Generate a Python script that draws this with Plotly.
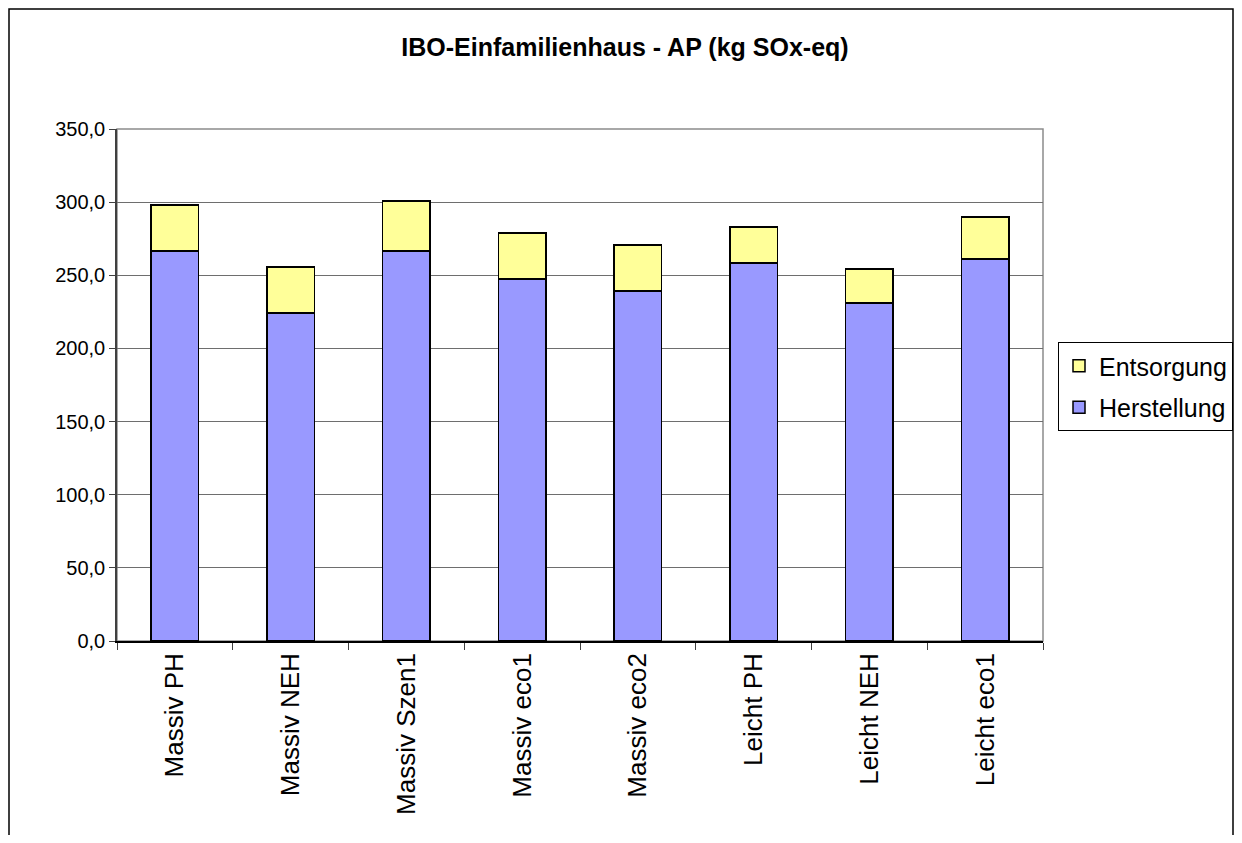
import plotly.graph_objects as go

categories = ["Massiv PH", "Massiv NEH", "Massiv Szen1", "Massiv eco1",
              "Massiv eco2", "Leicht PH", "Leicht NEH", "Leicht eco1"]
herstellung = [266.5, 224.1, 266.5, 247.4, 239.2, 258.3, 231.0, 261.0]
entsorgung_total = [298.0, 255.6, 300.7, 278.8, 270.6, 282.9, 254.2, 289.8]
entsorgung = [t - h for t, h in zip(entsorgung_total, herstellung)]
y_ticks = [0, 50, 100, 150, 200, 250, 300, 350]

OFF = 8  # page body margin
W, H = 1242 - 2 * OFF, 843 - 2 * OFF
L, R, T, B = 117 - OFF, 1043 - OFF, 129 - OFF, 641 - OFF
pw, ph = R - L, B - T

fig = go.Figure()
fig.add_trace(go.Bar(name="Herstellung", x=categories, y=herstellung,
                     legendgroup="h", legendrank=2,
                     marker=dict(color="#9999FF", line=dict(color="black", width=1.5))))
fig.add_trace(go.Bar(name="Entsorgung", x=categories, y=entsorgung,
                     legendgroup="e", legendrank=1,
                     marker=dict(color="#FFFF99", line=dict(color="black", width=1.5))))

fig.update_layout(
    width=W, height=H,
    margin=dict(l=L, r=W - R, t=T, b=H - B, autoexpand=False),
    barmode="stack", bargap=0.59,
    separators=",.",
    paper_bgcolor="white", plot_bgcolor="white",
    font=dict(family="Liberation Sans, Arial", size=20, color="black"),
    title=dict(text="<b>IBO-Einfamilienhaus - AP (kg SOx-eq)</b>",
               x=(625 - OFF) / W, xref="container", xanchor="center",
               y=1 - (47 - OFF) / H, yref="container", yanchor="middle",
               font=dict(size=25, family="Liberation Sans, Arial")),
    legend=dict(xref="container", yref="container",
                x=(1058 - OFF) / W, y=1 - (342 - OFF) / H,
                xanchor="left", yanchor="top",
                traceorder="grouped", bordercolor="black", borderwidth=1,
                bgcolor="white", font=dict(size=25),
                itemwidth=30, tracegroupgap=6),
    showlegend=True,
)
fig.update_yaxes(range=[0, 350], tickvals=y_ticks, tickformat=".1f",
                 showgrid=True, gridcolor="#6e6e6e", gridwidth=1,
                 showline=True, linecolor="#404040", linewidth=1.5,
                 ticks="outside", ticklen=6, tickcolor="#404040",
                 zeroline=False, tickfont=dict(size=20))
fig.update_xaxes(showline=True, linecolor="black", linewidth=1.5,
                 ticks="outside", tickson="boundaries", ticklen=7,
                 tickcolor="#404040", tickangle=-90, tickfont=dict(size=26),
                 showgrid=False)

# plot area border (gray)
fig.add_shape(type="rect", xref="paper", yref="paper", x0=0, x1=1, y0=0, y1=1,
              line=dict(color="#8c8c8c", width=1.5), layer="below")
# outer chart border
fig.add_shape(type="rect", xref="paper", yref="paper",
              x0=(1 - L) / pw, x1=(W - 1 - L) / pw, y0=-(H + 10 - B) / ph, y1=(B - 1) / ph,
              line=dict(color="black", width=1.5), layer="below")

fig.write_html("out.html")
